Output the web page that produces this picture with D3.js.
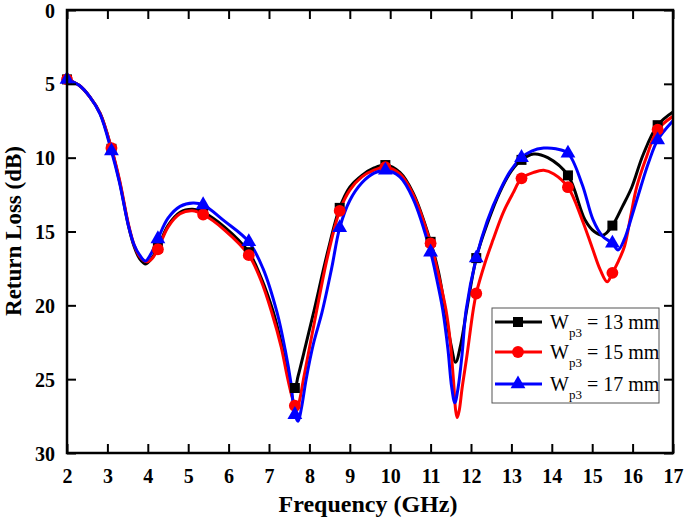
<!DOCTYPE html>
<html>
<head>
<meta charset="utf-8">
<script src="https://cdn.jsdelivr.net/npm/d3@7/dist/d3.min.js"></script>
<style>
  html, body { margin: 0; padding: 0; background: #fff; }
  svg { display: block; }
</style>
</head>
<body>
<svg id="chart" width="685" height="520"></svg>
<script>
// ---------- data ----------
const xTicks = [2,3,4,5,6,7,8,9,10,11,12,13,14,15,16,17];
const yTicks = [0,5,10,15,20,25,30];
const markerFreqs = [2.0,3.1,4.25,5.37,6.5,7.64,8.75,9.88,11.0,12.13,13.25,14.4,15.5,16.62];

const seriesNames = ["13 mm","15 mm","17 mm"];

const freq13 = [2.0,2.3,2.57,2.82,3.1,3.3,3.52,3.66,3.8,3.95,4.1,4.25,4.5,4.8,5.1,5.37,5.9,6.5,6.8,7.1,7.3,7.47,7.58,7.64,7.72,7.9,8.12,8.45,8.75,9.0,9.3,9.6,9.88,10.24,10.57,11.0,11.2,11.36,11.5,11.62,11.75,11.9,12.13,12.4,12.72,13.0,13.25,13.55,13.9,14.4,14.82,15.05,15.27,15.5,15.75,15.98,16.26,16.62,17.0];
const rl13   = [4.7,5.1,5.9,7.0,9.4,11.6,14.6,16.0,16.85,17.2,16.8,16.1,14.6,13.7,13.5,13.7,14.7,16.4,18.1,20.4,22.5,24.7,25.6,25.6,24.8,22.8,20.3,16.4,13.4,12.0,11.2,10.7,10.5,11.0,12.4,15.7,17.8,20.3,22.6,23.85,22.6,20.2,16.8,14.5,12.3,10.9,10.15,9.75,10.0,11.2,14.2,15.0,15.25,14.6,13.3,12.0,9.8,7.8,6.9];

const freq15 = [2.0,2.3,2.57,2.82,3.1,3.3,3.52,3.66,3.8,3.97,4.1,4.25,4.5,4.8,5.1,5.37,5.9,6.5,6.8,7.07,7.3,7.45,7.57,7.64,7.69,7.76,7.86,8.0,8.17,8.45,8.75,9.0,9.3,9.6,9.88,10.24,10.57,11.0,11.2,11.38,11.48,11.57,11.62,11.66,11.71,11.78,11.9,12.05,12.13,12.35,12.54,12.8,13.04,13.25,13.55,13.8,14.05,14.4,14.75,15.0,15.2,15.37,15.5,15.65,15.8,15.95,16.1,16.35,16.62,17.0];
const rl15   = [4.7,5.1,5.9,7.0,9.35,11.5,14.5,15.9,16.7,17.05,16.85,16.2,14.7,13.8,13.6,13.85,14.9,16.6,18.3,20.5,22.8,24.8,26.2,26.8,27.1,26.4,24.9,22.9,20.5,16.7,13.6,12.2,11.3,10.85,10.65,11.1,12.5,15.8,18.0,20.3,22.3,25.2,27.1,27.6,27.1,25.6,23.4,20.4,19.2,17.1,15.6,13.7,12.4,11.4,11.0,10.85,11.1,12.0,14.2,16.1,17.6,18.4,17.8,17.0,16.0,14.0,12.0,9.9,8.1,7.2];

const freq17 = [2.0,2.3,2.57,2.82,3.1,3.3,3.52,3.66,3.8,3.94,4.1,4.25,4.5,4.8,5.12,5.37,5.9,6.5,6.85,7.2,7.4,7.54,7.64,7.72,7.8,7.92,8.1,8.31,8.55,8.75,9.0,9.3,9.6,9.88,10.24,10.57,11.0,11.15,11.3,11.43,11.52,11.6,11.68,11.78,11.88,12.13,12.4,12.72,13.0,13.25,13.5,13.8,14.1,14.4,14.75,15.02,15.25,15.5,15.64,15.8,16.0,16.2,16.4,16.62,17.0];
const rl17   = [4.7,5.1,5.9,7.05,9.55,11.7,14.6,15.9,16.6,17.0,16.4,15.5,14.1,13.3,13.07,13.2,14.3,15.7,17.5,20.5,23.0,25.2,27.4,27.85,27.0,25.0,22.6,20.5,17.5,14.75,12.9,11.7,11.05,10.85,11.3,12.8,16.4,18.2,20.3,23.0,25.5,26.6,25.6,23.3,20.3,16.8,14.3,12.2,10.8,10.0,9.55,9.35,9.4,9.7,11.8,14.2,15.3,15.8,16.25,15.5,13.8,12.0,10.3,8.8,7.5];

const colors = ["#000000","#ff0000","#0000ff"];
const symbols = [d3.symbolSquare, d3.symbolCircle, d3.symbolTriangle];
const symSizes = [100, 110, 95];

// ---------- layout ----------
const svg = d3.select("#chart");
const L = 67, R = 673, T = 10, B = 453;
const x = d3.scaleLinear().domain([2,17]).range([L,R]);
const y = d3.scaleLinear().domain([0,30]).range([T,B]);
const font = "'Liberation Serif','Times New Roman',serif";

const series = [
  {f: freq13, v: rl13},
  {f: freq15, v: rl15},
  {f: freq17, v: rl17}
];

const line = d3.line().x(d => x(d[0])).y(d => y(d[1])).curve(d3.curveCatmullRom.alpha(0.5));

svg.append("clipPath").attr("id","clip")
  .append("rect").attr("x",L).attr("y",T).attr("width",R-L).attr("height",B-T);

const plot = svg.append("g").attr("clip-path","url(#clip)");

series.forEach((s,i) => {
  const pts = s.f.map((f,j) => [f, s.v[j]]);
  plot.append("path").datum(pts)
    .attr("d", line)
    .attr("fill","none")
    .attr("stroke", colors[i])
    .attr("stroke-width", 3)
    .attr("stroke-linejoin","round");
});
series.forEach((s,i) => {
  const pts = s.f.map((f,j) => [f, s.v[j]]).filter(p => markerFreqs.includes(p[0]));
  svg.append("g").selectAll("path").data(pts).join("path")
    .attr("transform", d => `translate(${x(d[0])},${y(d[1])})`)
    .attr("d", d3.symbol().type(symbols[i]).size(symSizes[i]))
    .attr("fill", colors[i]);
});

// ---------- axes ----------
const tickLen = 9;
const axB = svg.append("g").attr("transform",`translate(0,${B})`)
  .call(d3.axisBottom(x).tickValues(xTicks).tickSizeInner(-tickLen).tickSizeOuter(0).tickPadding(tickLen+7).tickFormat(d3.format("d")));
const axT = svg.append("g").attr("transform",`translate(0,${T})`)
  .call(d3.axisTop(x).tickValues(xTicks).tickSizeInner(-tickLen).tickSizeOuter(0).tickFormat(""));
const axL = svg.append("g").attr("transform",`translate(${L},0)`)
  .call(d3.axisLeft(y).tickValues(yTicks).tickSizeInner(-tickLen).tickSizeOuter(0).tickPadding(tickLen+3).tickFormat(d3.format("d")));
const axR = svg.append("g").attr("transform",`translate(${R},0)`)
  .call(d3.axisRight(y).tickValues(yTicks).tickSizeInner(-tickLen).tickSizeOuter(0).tickFormat(""));

[axB,axT,axL,axR].forEach(a => {
  a.select(".domain").remove();
  a.selectAll(".tick line").attr("stroke","#000").attr("stroke-width",2);
  a.selectAll(".tick text").attr("font-family",font).attr("font-weight","bold")
    .attr("font-size",20).attr("fill","#000");
});
axL.selectAll(".tick text").attr("dy","0.35em");

svg.append("rect").attr("x",L).attr("y",T).attr("width",R-L).attr("height",B-T)
  .attr("fill","none").attr("stroke","#000").attr("stroke-width",2.5);

// axis titles
svg.append("text").attr("x",368).attr("y",512)
  .attr("text-anchor","middle").attr("font-family",font).attr("font-weight","bold")
  .attr("font-size",24).text("Frequency (GHz)");
svg.append("text").attr("transform",`translate(21,231) rotate(-90)`)
  .attr("text-anchor","middle").attr("font-family",font).attr("font-weight","bold")
  .attr("font-size",23).text("Return Loss (dB)");

// ---------- legend ----------
const lg = svg.append("g");
lg.append("rect").attr("x",492).attr("y",308).attr("width",167).attr("height",95)
  .attr("fill","#fff").attr("stroke","#555").attr("stroke-width",1);
const rowY = [322,352,384];
seriesNames.forEach((name,i) => {
  lg.append("line").attr("x1",495).attr("x2",542).attr("y1",rowY[i]).attr("y2",rowY[i])
    .attr("stroke",colors[i]).attr("stroke-width",3);
  lg.append("path").attr("transform",`translate(518,${rowY[i]})`)
    .attr("d", d3.symbol().type(symbols[i]).size(symSizes[i])).attr("fill",colors[i]);
  const t = lg.append("text").attr("x",550).attr("y",rowY[i]+7)
    .attr("font-family",font).attr("font-size",20).attr("fill","#000");
  t.append("tspan").text("W");
  t.append("tspan").attr("font-size",13).attr("dy",8).text("p3");
  t.append("tspan").attr("dy",-8).text(" = " + name);
});
</script>
</body>
</html>
